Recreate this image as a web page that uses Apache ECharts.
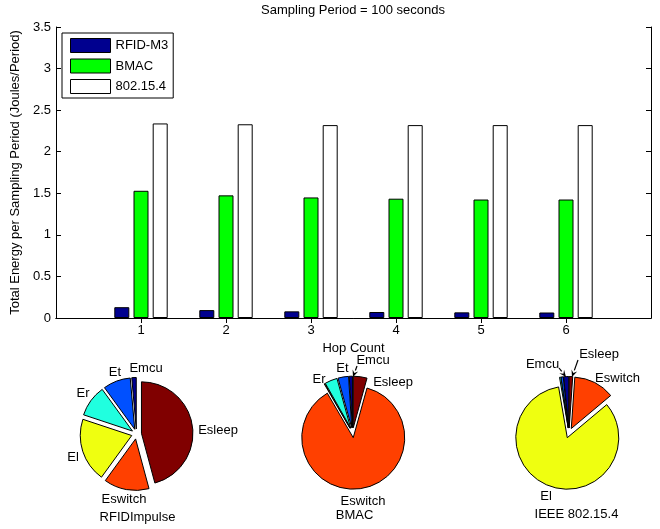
<!DOCTYPE html>
<html>
<head>
<meta charset="utf-8">
<script src="https://cdn.jsdelivr.net/npm/echarts@6/dist/echarts.min.js"></script>
<style>
  html, body { margin: 0; padding: 0; background: #fff; }
  #chart { width: 660px; height: 529px; }
</style>
</head>
<body>
<div id="chart"></div>
<script>
// Total energy per sampling period (Joules/Period), sampling period = 100 s
const hopCounts = ['1', '2', '3', '4', '5', '6'];
const rfidM3 = [0.13, 0.095, 0.08, 0.072, 0.068, 0.066];
const bmac = [1.53, 1.475, 1.45, 1.435, 1.425, 1.425];
const ieee802154 = [2.34, 2.33, 2.32, 2.32, 2.32, 2.32];
const seriesNames = ['RFID-M3', 'BMAC', '802.15.4'];
const yMin = 0, yMax = 3.5, yStep = 0.5;

// Energy breakdown (percent of total) for each protocol
const energyParts = ['Emcu', 'Et', 'Er', 'El', 'Eswitch', 'Esleep'];
const rfidImpulseShare = [1.4, 8.6, 9.9, 20.1, 14.2, 45.8];
const bmacShare = [1.0, 3.3, 3.9, 0.2, 87.3, 4.3];
const ieeeShare = [1.6, 0.7, 0.4, 83.4, 12.8, 1.1];
const pieTitles = ['RFIDImpulse', 'BMAC', 'IEEE 802.15.4'];

const FONT = '"Liberation Sans", Arial, Helvetica, sans-serif';
const FS = 13;
const partColors = ['#00008f', '#0050ff', '#20ffdf', '#efff10', '#ff4000', '#800000'];
const barColors = ['#00008f', '#00ff00', '#ffffff'];

// Padded category axis: an empty slot on each side of hop counts 1..6
const cats = [''].concat(hopCounts, ['']);
const pad = arr => ['-'].concat(arr, ['-']);
const inner = i => i > 0 && i < cats.length - 1;

const barSeries = [rfidM3, bmac, ieee802154].map((vals, k) => ({
  name: seriesNames[k],
  type: 'bar',
  data: pad(vals),
  barWidth: 15,
  barGap: '28%',
  itemStyle: { color: barColors[k], borderColor: '#000', borderWidth: 1 },
  emphasis: { disabled: true },
  silent: true
}));

function pieSeries(values, center) {
  return {
    type: 'pie',
    center: center,
    radius: 51.5,
    startAngle: 90,
    clockwise: false,
    selectedMode: 'multiple',
    selectedOffset: 5,
    label: { show: false },
    labelLine: { show: false },
    emphasis: { disabled: true },
    silent: true,
    itemStyle: { borderColor: '#000', borderWidth: 1 },
    select: { itemStyle: { borderColor: '#000', borderWidth: 1 } },
    data: energyParts.map((n, i) => ({
      name: n,
      value: values[i],
      selected: true,
      itemStyle: { color: partColors[i] },
      select: { itemStyle: { color: partColors[i] } }
    }))
  };
}

// Slice labels placed beside the pies
function label(text, x, y) {
  return {
    type: 'text', x: x, y: y, silent: true,
    style: { text: text, font: FS + 'px ' + FONT, fill: '#000', align: 'center', verticalAlign: 'middle' }
  };
}
function arrow(x1, y1, x2, y2) {
  const a = Math.atan2(y2 - y1, x2 - x1);
  const len = 7, wid = 3;
  const bx = x2 - len * Math.cos(a), by = y2 - len * Math.sin(a);
  const nx = -Math.sin(a) * wid, ny = Math.cos(a) * wid;
  return [
    { type: 'line', silent: true, shape: { x1: x1, y1: y1, x2: bx, y2: by }, style: { stroke: '#000', lineWidth: 1.2 } },
    { type: 'polygon', silent: true,
      shape: { points: [[x2, y2], [bx + nx, by + ny], [x2 - 0.6 * len * Math.cos(a), y2 - 0.6 * len * Math.sin(a)], [bx - nx, by - ny]] },
      style: { fill: '#000' } }
  ];
}

const graphics = [
  // RFIDImpulse
  label('Emcu', 146, 368), label('Et', 115, 372), label('Er', 83, 393),
  label('El', 73, 457), label('Eswitch', 124, 499), label('Esleep', 218, 430),
  label(pieTitles[0], 137.5, 517),
  // BMAC
  label('Emcu', 373, 360), label('Et', 342.5, 368), label('Er', 319, 379),
  label('Esleep', 393, 382), label('Eswitch', 363, 501), label(pieTitles[1], 354.5, 515),
  // IEEE 802.15.4
  label('Emcu', 542.5, 364), label('Esleep', 599, 354), label('Eswitch', 617.5, 378),
  label('El', 546, 496), label(pieTitles[2], 576.5, 514)
].concat(
  arrow(357, 366, 353, 377),
  arrow(559, 368, 566, 377),
  arrow(578, 360, 572, 377)
);

const axisLineStyle = { lineStyle: { color: '#000', width: 1 } };
const chart = echarts.init(document.getElementById('chart'), null, { renderer: 'canvas' });
chart.setOption({
  animation: false,
  backgroundColor: '#fff',
  textStyle: { fontFamily: FONT },
  title: {
    text: 'Sampling Period = 100 seconds',
    left: 353, top: 4, padding: 0, textAlign: 'center',
    textStyle: { fontSize: FS, fontWeight: 'normal', color: '#000', fontFamily: FONT }
  },
  legend: {
    data: seriesNames,
    orient: 'vertical',
    left: 62, top: 33,
    padding: [5, 5, 4, 8],
    itemWidth: 40, itemHeight: 14, itemGap: 5.5,
    backgroundColor: '#fff', borderColor: '#000', borderWidth: 1, borderRadius: 0,
    icon: 'rect',
    selectedMode: false,
    itemStyle: { borderColor: '#000', borderWidth: 1 },
    textStyle: { fontSize: FS, color: '#000', fontFamily: FONT }
  },
  grid: { left: 56, right: 9, top: 27, bottom: 211, containLabel: false },
  xAxis: [
    {
      type: 'category', data: cats, boundaryGap: false, position: 'bottom',
      axisLine: axisLineStyle,
      axisTick: { inside: true, length: 5, interval: inner, lineStyle: { color: '#000' } },
      axisLabel: { interval: inner, margin: 6, fontSize: FS, color: '#000', fontFamily: FONT },
      splitLine: { show: false },
      name: 'Hop Count', nameLocation: 'middle', nameGap: 22,
      nameTextStyle: { fontSize: FS, color: '#000', fontFamily: FONT }
    },
    {
      type: 'category', data: cats, boundaryGap: false, position: 'top',
      axisLine: axisLineStyle,
      axisTick: { inside: true, length: 5, interval: inner, lineStyle: { color: '#000' } },
      axisLabel: { show: false },
      splitLine: { show: false }
    }
  ],
  yAxis: [
    {
      type: 'value', min: yMin, max: yMax, interval: yStep, position: 'left',
      axisLine: { show: true, lineStyle: { color: '#000', width: 1 } },
      axisTick: { show: true, inside: true, length: 5, lineStyle: { color: '#000' } },
      axisLabel: { margin: 5, fontSize: FS, color: '#000', fontFamily: FONT },
      splitLine: { show: false },
      name: 'Total Energy per Sampling Period (Joules/Period)',
      nameLocation: 'middle', nameGap: 30,
      nameTextStyle: { fontSize: FS, color: '#000', fontFamily: FONT }
    },
    {
      type: 'value', min: yMin, max: yMax, interval: yStep, position: 'right',
      axisLine: { show: true, lineStyle: { color: '#000', width: 1 } },
      axisTick: { show: true, inside: true, length: 5, lineStyle: { color: '#000' } },
      axisLabel: { show: false },
      splitLine: { show: false }
    }
  ],
  series: barSeries.concat([
    pieSeries(rfidImpulseShare, [136.5, 434]),
    pieSeries(bmacShare, [352.6, 432.7]),
    pieSeries(ieeeShare, [569, 433])
  ]),
  graphic: graphics
});
</script>
</body>
</html>
